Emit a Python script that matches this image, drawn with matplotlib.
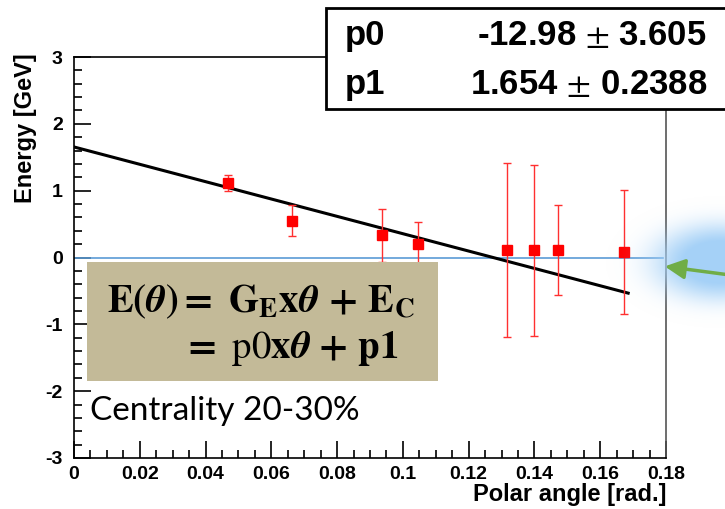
import numpy as np
import matplotlib
matplotlib.use("Agg")
import matplotlib.pyplot as plt
import matplotlib.ticker as ticker
from matplotlib.patches import Rectangle, FancyArrowPatch

# data
angle = [0.0468, 0.0663, 0.0935, 0.1045, 0.1317, 0.1398, 0.1472, 0.1673]
energy = [1.12, 0.55, 0.33, 0.20, 0.11, 0.11, 0.11, 0.08]
energy_err = [0.12, 0.23, 0.39, 0.33, 1.30, 1.28, 0.67, 0.93]
p0, p0_err = -12.98, 3.605
p1, p1_err = 1.654, 0.2388
fit_range = [0.0, 0.1685]

W, H = 725, 509
plt.rcParams['mathtext.fontset'] = 'stix'
plt.rcParams['axes.unicode_minus'] = False
plt.rcParams['font.family'] = 'Liberation Sans'
plt.rcParams['xtick.labelsize'] = 14
plt.rcParams['ytick.labelsize'] = 14

fig = plt.figure(figsize=(W / 100, H / 100), dpi=100)
ax = fig.add_axes([74 / W, 1 - 458 / H, 592 / W, 401 / H])

# fit line and data
fx = np.array(fit_range)
ax.plot(fx, p1 + p0 * fx, color='black', lw=2.2, zorder=3)
ax.plot([0.0, 0.179], [0, 0], color='#5b9bd5', lw=1.2, zorder=2)
ax.errorbar(angle, energy, yerr=energy_err, fmt='s', color='red', ecolor='#ff3030',
            elinewidth=1, capsize=3, markersize=7, zorder=4)

ax.set_xlim(0, 0.18)
ax.set_ylim(-3, 3)
ax.xaxis.set_major_locator(ticker.MultipleLocator(0.02))
ax.xaxis.set_minor_locator(ticker.MultipleLocator(0.005))
ax.yaxis.set_major_locator(ticker.MultipleLocator(1))
ax.yaxis.set_minor_locator(ticker.MultipleLocator(0.2))
ax.xaxis.set_major_formatter(ticker.FuncFormatter(lambda v, p: '0' if abs(v) < 1e-9 else ('%g' % round(v, 3))))
ax.tick_params(which='both', direction='in', top=False, right=False, width=1.2)
ax.tick_params(which='major', length=12)
ax.tick_params(which='minor', length=6)
ax.tick_params(axis='x', which='major', pad=6)
ax.tick_params(axis='y', which='major', pad=8)
ax.spines['right'].set_color('#555555')
for s in ax.spines.values():
    s.set_linewidth(1.2)

ax.set_ylabel('Energy [GeV]', loc='top', fontsize=17, fontweight='bold')
ax.yaxis.set_label_coords(-0.062, 1.01)
ax.set_xlabel('Polar angle [rad.]', loc='right', fontsize=17, fontweight='bold')
ax.xaxis.set_label_coords(1.0, -0.063)

# formula box
fig.patches.append(Rectangle((87 / W, 1 - 381 / H), 351 / W, 119 / H, transform=fig.transFigure,
                             facecolor='#c3ba98', edgecolor='none', zorder=5))
fig.text(107 / W, 1 - 312 / H,
         r'$\mathbf{E(}\boldsymbol{\theta}\mathbf{)=\ G_{E}x}\boldsymbol{\theta}\mathbf{\,+\,E_{C}}$',
         fontsize=28, color='black', zorder=6)
fig.text(182 / W, 1 - 358 / H,
         r'$\mathbf{=}\ \mathrm{p0}\mathbf{x}\boldsymbol{\theta}\ \mathbf{+}\ \mathbf{p1}$',
         fontsize=28, color='black', zorder=6)
fig.text(90 / W, 1 - 420 / H, 'Centrality 20-30%', fontsize=24, family='Lato', zorder=6)

# stats box
fig.patches.append(Rectangle((326 / W, 1 - 109 / H), 420 / W, 101 / H, transform=fig.transFigure,
                             facecolor='white', edgecolor='black', lw=2, zorder=5))
sfont = dict(fontsize=25, fontweight='bold', zorder=6)
fig.text(345 / W, 1 - 45 / H, 'p0', **sfont)
fig.text(345 / W, 1 - 94 / H, 'p1', **sfont)
fig.text(707 / W, 1 - 45 / H, '%.2f $\\pm$ %.3f' % (p0, p0_err), ha='right', **sfont)
fig.text(707 / W, 1 - 94 / H, '%.3f $\\pm$ %.4f' % (p1, p1_err), ha='right', **sfont)

# blue glow + green arrow on the right
gax = fig.add_axes([590 / W, 1 - 330 / H, 135 / W, 140 / H], zorder=1)
gx, gy = np.meshgrid(np.linspace(590, 725, 135), np.linspace(190, 330, 140))
d = ((gx - 720) / 62) ** 2 + ((gy - 262) / 36) ** 2
rgba = np.zeros(gx.shape + (4,))
rgba[..., 0], rgba[..., 1], rgba[..., 2] = 0.65, 0.82, 0.97
rgba[..., 3] = np.clip(1.2 * np.exp(-d ** 1.5 * 0.9), 0, 1)
gax.imshow(rgba, extent=[590, 725, 330, 190], aspect='auto')
gax.axis('off')
fig.patches.append(FancyArrowPatch((730 / W, 1 - 275 / H), (662 / W, 1 - 266 / H),
                                   transform=fig.transFigure,
                                   arrowstyle='-|>,head_length=12,head_width=6',
                                   color='#70ad47', lw=2.5, zorder=7))

# bold tick labels (set after a draw so the ticks exist)
fig.canvas.draw()
for lab in ax.get_xticklabels() + ax.get_yticklabels():
    lab.set_fontweight('bold')

fig.savefig('out.png', dpi=100)
